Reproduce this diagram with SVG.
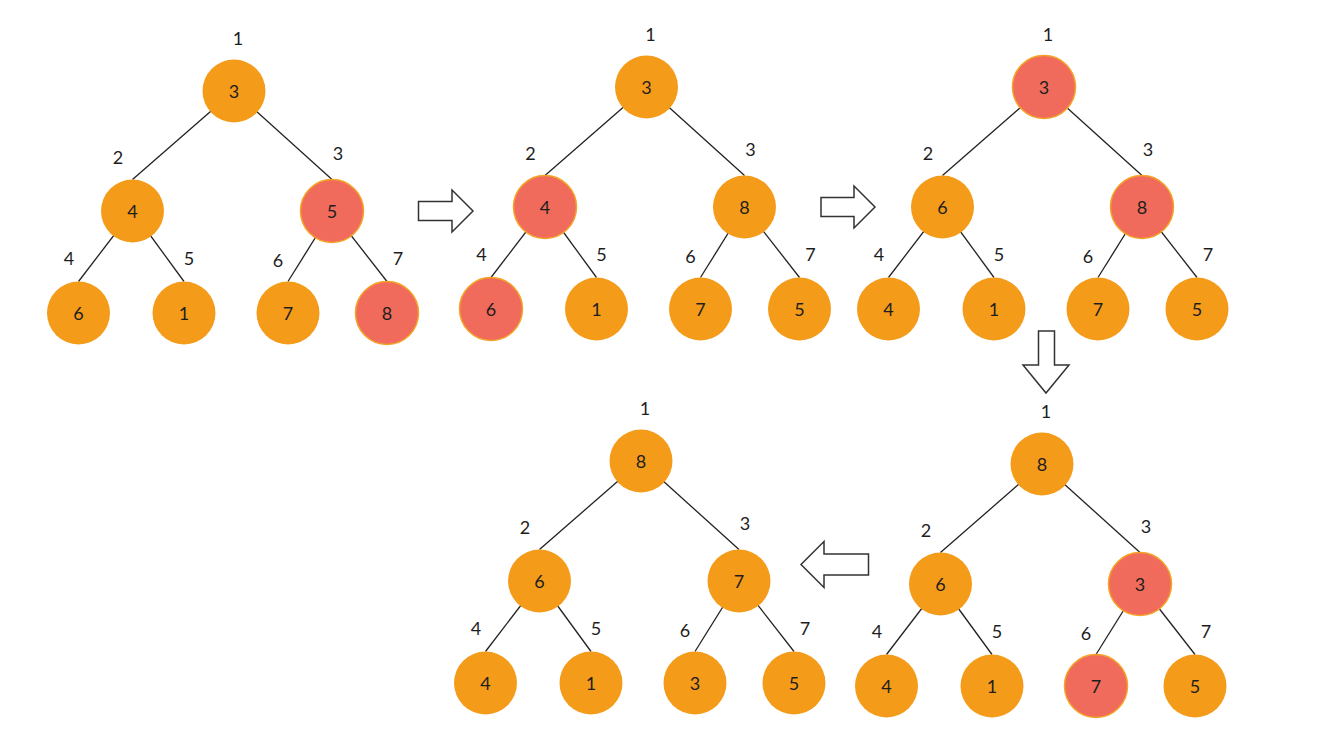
<svg xmlns="http://www.w3.org/2000/svg" width="1325" height="730" viewBox="0 0 1325 730">
<style>
.o{fill:#F59B1A}
.r{fill:#F06B5B;stroke:#F5A326;stroke-width:1.5}
.v{font-family:Lato,"Liberation Sans",sans-serif;font-size:18px;fill:#1e1e1e;text-anchor:middle}
.e line{stroke:#222;stroke-width:1.3}
.ar{fill:#fff;stroke:#333;stroke-width:1.5;stroke-linejoin:miter}
</style>
<defs>
<circle id="c" r="31.5"/>
</defs>
<rect width="1325" height="730" fill="#fff"/>

<!-- connectors -->
<g id="connectors" class="e">
<g transform="translate(234,91)">
<line x1="0" y1="0" x2="-101.5" y2="88.5"/><line x1="0" y1="0" x2="98" y2="88.5"/>
<line x1="-101.5" y1="120" x2="-155.5" y2="190.5"/><line x1="-101.5" y1="120" x2="-50" y2="190.5"/>
<line x1="98" y1="120" x2="54" y2="190.5"/><line x1="98" y1="120" x2="153" y2="190.5"/>
</g>
<g transform="translate(646.5,87)">
<line x1="0" y1="0" x2="-101.5" y2="88.5"/><line x1="0" y1="0" x2="98" y2="88.5"/>
<line x1="-101.5" y1="120" x2="-155.5" y2="190.5"/><line x1="-101.5" y1="120" x2="-50" y2="190.5"/>
<line x1="98" y1="120" x2="54" y2="190.5"/><line x1="98" y1="120" x2="153" y2="190.5"/>
</g>
<g transform="translate(1044,87)">
<line x1="0" y1="0" x2="-101.5" y2="88.5"/><line x1="0" y1="0" x2="98" y2="88.5"/>
<line x1="-101.5" y1="120" x2="-155.5" y2="190.5"/><line x1="-101.5" y1="120" x2="-50" y2="190.5"/>
<line x1="98" y1="120" x2="54" y2="190.5"/><line x1="98" y1="120" x2="153" y2="190.5"/>
</g>
<g transform="translate(1042,464)">
<line x1="0" y1="0" x2="-101.5" y2="88.5"/><line x1="0" y1="0" x2="98" y2="88.5"/>
<line x1="-101.5" y1="120" x2="-155.5" y2="190.5"/><line x1="-101.5" y1="120" x2="-50" y2="190.5"/>
<line x1="98" y1="120" x2="54" y2="190.5"/><line x1="98" y1="120" x2="153" y2="190.5"/>
</g>
<g transform="translate(641,461)">
<line x1="0" y1="0" x2="-101.5" y2="88.5"/><line x1="0" y1="0" x2="98" y2="88.5"/>
<line x1="-101.5" y1="120" x2="-155.5" y2="190.5"/><line x1="-101.5" y1="120" x2="-50" y2="190.5"/>
<line x1="98" y1="120" x2="54" y2="190.5"/><line x1="98" y1="120" x2="153" y2="190.5"/>
</g>
</g>

<!-- arrows -->
<g id="arrows">
<polygon class="ar" points="418.5,201.5 452,201.5 452,190 473,211 452,232 452,220.5 418.5,220.5"/>
<polygon class="ar" points="821,197.5 854,197.5 854,186 875,207 854,228 854,216.5 821,216.5"/>
<polygon class="ar" points="1038.5,331 1054.5,331 1054.5,365 1069,365 1046,393 1023,365 1038.5,365"/>
<polygon class="ar" points="868.5,554 824,554 824,541.5 801,564.5 824,587.5 824,575 868.5,575"/>
</g>

<!-- tree 1 -->
<g id="t1">
<g id="t1-n1" transform="translate(234,91)"><use href="#c" class="o"/><text class="v" y="6.5">3</text><text class="v" x="4" y="-46.5">1</text></g>
<g id="t1-n2" transform="translate(132.5,211)"><use href="#c" class="o"/><text class="v" y="6.5">4</text><text class="v" x="-14.5" y="-47.5">2</text></g>
<g id="t1-n3" transform="translate(332,211)"><use href="#c" class="r"/><text class="v" y="6.5">5</text><text class="v" x="6" y="-51.5">3</text></g>
<g id="t1-n4" transform="translate(78.5,313)"><use href="#c" class="o"/><text class="v" y="6.5">6</text><text class="v" x="-9.5" y="-48.5">4</text></g>
<g id="t1-n5" transform="translate(184,313)"><use href="#c" class="o"/><text class="v" y="6.5">1</text><text class="v" x="5" y="-48.5">5</text></g>
<g id="t1-n6" transform="translate(288,313)"><use href="#c" class="o"/><text class="v" y="6.5">7</text><text class="v" x="-10" y="-46.5">6</text></g>
<g id="t1-n7" transform="translate(387,313)"><use href="#c" class="r"/><text class="v" y="6.5">8</text><text class="v" x="11" y="-48.5">7</text></g>
</g>

<!-- tree 2 -->
<g id="t2">
<g id="t2-n1" transform="translate(646.5,87)"><use href="#c" class="o"/><text class="v" y="6.5">3</text><text class="v" x="4" y="-46.5">1</text></g>
<g id="t2-n2" transform="translate(545,207)"><use href="#c" class="r"/><text class="v" y="6.5">4</text><text class="v" x="-14.5" y="-47.5">2</text></g>
<g id="t2-n3" transform="translate(744.5,207)"><use href="#c" class="o"/><text class="v" y="6.5">8</text><text class="v" x="6" y="-51.5">3</text></g>
<g id="t2-n4" transform="translate(491,309)"><use href="#c" class="r"/><text class="v" y="6.5">6</text><text class="v" x="-9.5" y="-48.5">4</text></g>
<g id="t2-n5" transform="translate(596.5,309)"><use href="#c" class="o"/><text class="v" y="6.5">1</text><text class="v" x="5" y="-48.5">5</text></g>
<g id="t2-n6" transform="translate(700.5,309)"><use href="#c" class="o"/><text class="v" y="6.5">7</text><text class="v" x="-10" y="-46.5">6</text></g>
<g id="t2-n7" transform="translate(799.5,309)"><use href="#c" class="o"/><text class="v" y="6.5">5</text><text class="v" x="11" y="-48.5">7</text></g>
</g>

<!-- tree 3 -->
<g id="t3">
<g id="t3-n1" transform="translate(1044,87)"><use href="#c" class="r"/><text class="v" y="6.5">3</text><text class="v" x="4" y="-46.5">1</text></g>
<g id="t3-n2" transform="translate(942.5,207)"><use href="#c" class="o"/><text class="v" y="6.5">6</text><text class="v" x="-14.5" y="-47.5">2</text></g>
<g id="t3-n3" transform="translate(1142,207)"><use href="#c" class="r"/><text class="v" y="6.5">8</text><text class="v" x="6" y="-51.5">3</text></g>
<g id="t3-n4" transform="translate(888.5,309)"><use href="#c" class="o"/><text class="v" y="6.5">4</text><text class="v" x="-9.5" y="-48.5">4</text></g>
<g id="t3-n5" transform="translate(994,309)"><use href="#c" class="o"/><text class="v" y="6.5">1</text><text class="v" x="5" y="-48.5">5</text></g>
<g id="t3-n6" transform="translate(1098,309)"><use href="#c" class="o"/><text class="v" y="6.5">7</text><text class="v" x="-10" y="-46.5">6</text></g>
<g id="t3-n7" transform="translate(1197,309)"><use href="#c" class="o"/><text class="v" y="6.5">5</text><text class="v" x="11" y="-48.5">7</text></g>
</g>

<!-- tree 4 -->
<g id="t4">
<g id="t4-n1" transform="translate(1042,464)"><use href="#c" class="o"/><text class="v" y="6.5">8</text><text class="v" x="4" y="-46.5">1</text></g>
<g id="t4-n2" transform="translate(940.5,584)"><use href="#c" class="o"/><text class="v" y="6.5">6</text><text class="v" x="-14.5" y="-47.5">2</text></g>
<g id="t4-n3" transform="translate(1140,584)"><use href="#c" class="r"/><text class="v" y="6.5">3</text><text class="v" x="6" y="-51.5">3</text></g>
<g id="t4-n4" transform="translate(886.5,686)"><use href="#c" class="o"/><text class="v" y="6.5">4</text><text class="v" x="-9.5" y="-48.5">4</text></g>
<g id="t4-n5" transform="translate(992,686)"><use href="#c" class="o"/><text class="v" y="6.5">1</text><text class="v" x="5" y="-48.5">5</text></g>
<g id="t4-n6" transform="translate(1096,686)"><use href="#c" class="r"/><text class="v" y="6.5">7</text><text class="v" x="-10" y="-46.5">6</text></g>
<g id="t4-n7" transform="translate(1195,686)"><use href="#c" class="o"/><text class="v" y="6.5">5</text><text class="v" x="11" y="-48.5">7</text></g>
</g>

<!-- tree 5 -->
<g id="t5">
<g id="t5-n1" transform="translate(641,461)"><use href="#c" class="o"/><text class="v" y="6.5">8</text><text class="v" x="4" y="-46.5">1</text></g>
<g id="t5-n2" transform="translate(539.5,581)"><use href="#c" class="o"/><text class="v" y="6.5">6</text><text class="v" x="-14.5" y="-47.5">2</text></g>
<g id="t5-n3" transform="translate(739,581)"><use href="#c" class="o"/><text class="v" y="6.5">7</text><text class="v" x="6" y="-51.5">3</text></g>
<g id="t5-n4" transform="translate(485.5,683)"><use href="#c" class="o"/><text class="v" y="6.5">4</text><text class="v" x="-9.5" y="-48.5">4</text></g>
<g id="t5-n5" transform="translate(591,683)"><use href="#c" class="o"/><text class="v" y="6.5">1</text><text class="v" x="5" y="-48.5">5</text></g>
<g id="t5-n6" transform="translate(695,683)"><use href="#c" class="o"/><text class="v" y="6.5">3</text><text class="v" x="-10" y="-46.5">6</text></g>
<g id="t5-n7" transform="translate(794,683)"><use href="#c" class="o"/><text class="v" y="6.5">5</text><text class="v" x="11" y="-48.5">7</text></g>
</g>
</svg>
